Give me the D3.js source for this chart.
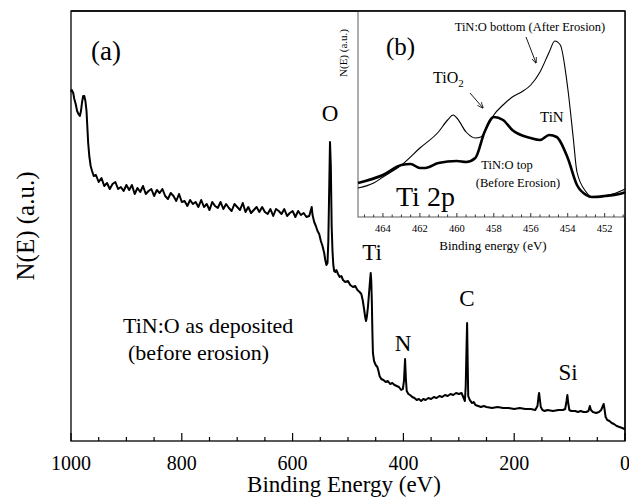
<!DOCTYPE html>
<html><head><meta charset="utf-8">
<script src="https://cdn.jsdelivr.net/npm/d3@7"></script>
</head><body style="margin:0;background:#fff"><svg id="c" width="629" height="497" style="display:block;font-family:'Liberation Serif',Tinos,'Times New Roman',serif !important"></svg>
<script>
// ---- main survey spectrum (binding energy eV, intensity a.u.) ----
const surveyE = [1000,998.7,996,994,991.5,989,986.5,984,982,980,978,976,974,972,970.5,969,967,964.5,962,959,
955,950,945,940,935,930,925,920,915,910,905,900,895,890,885,880,875,870,865,860,855,850,845,840,835,830,825,820,815,810,805,800,795,790,785,780,775,770,765,760,755,750,745,740,735,730,725,720,715,710,705,700,695,690,685,680,675,670,665,660,655,650,645,640,635,630,625,620,615,610,605,600,595,590,585,580,575,
570,567,565.5,564,561,558,555,552,549,546,543,541,539,537,535.5,534,532.5,531,529.5,528,526.5,525,523,521,518,515,512,509,505,500,496,491,487,483,479,476,473.5,471,469,467.5,466,464,462,460,459,458,457,456,455,453,450,447,445,443,440,436,432,428,424,420,416,412,408,404,401,399,397,395.5,394,391,388,384,380,376,372,368,364,360,355,350,345,340,335,330,325,320,315,310,305,300,295,292,289,287.5,286,285,284,283,281,279,276,273,270,265,260,255,250,240,230,220,210,200,190,180,170,162,158,156,155,154,152,149,145,140,130,120,112,108,105.5,104,102.5,100.5,97,90,85,80,75,70,66,63.5,61.5,58,52,47,43,40,38.5,37,35,32,28,24,20,15,10,5,1,0];
const surveyI = [349,351,348,342,337,330,327,325,330,339,345,345,340,330,314,298,285,275,270,265,
266,259,263,255,258,252,257,259,252,254,250,256,251,256,247,253,249,255,247,250,252,245,251,248,252,245,242,248,245,240,247,239,240,235,241,237,239,234,241,234,237,231,239,235,233,239,232,237,233,230,237,234,231,238,229,234,228,231,234,229,234,229,227,232,225,232,230,227,232,225,228,230,224,230,226,228,224,
225,231,234,226,219,215,210,207,200,195,188,181,176,178,200,250,299,275,215,190,176,170,169,171,167,164,165,161,159,160,156,154,155,151,149,147,141,132,124,120,124,134,148,162,168,160,140,110,88,80,76,74,70,65,62,61,59,60,57,58,56,55,54,51,52,60,82,62,50,47,46,44,43,41,42,40,42,41,43,42,44,43,45,44,46,45,47,46,48,47,48,44,40,55,95,118,80,45,42,40,38,39,36,35,34,35,34,33,34,33,33,32,33,32,32,31,35,45,48,43,34,31,30,31,30,31,31,32,40,46,38,31,30,30,29,30,29,29,30,35,31,29,28,29,31,35,37,32,24,21,20,18,17,15,14,13,12,12];
const mainTicks = [1000,800,600,400,200,0];
const elementLabels = ["O","Ti","N","C","Si"];
const elementE = [532.5,456.7,400.7,285.2,102.9];
const elementI = [320,181,90,135,61];

// ---- inset Ti 2p (binding energy eV, intensity a.u.) ----
const topE = [465.35,464,463,462.5,462,461.7,461,460,459.5,459,458.5,458,457.5,457,456,455.5,455,454.6,454,453.5,453,452.7,452,451,450.9];
const topI = [34,42,52,53,49,49,54,56,55,59,85,100,97,87,79,77,82,80,59,32,22,20,21,24,25];
const bottomE = [465.35,464.5,464,463,462,461,460.5,460.2,460,459.5,459,458.7,458.3,458,457.5,457,456.5,456,455.5,455,454.7,454.4,454,453.7,453.5,453,452.7,452,451,450.9];
const bottomI = [29,34,40,52,69,85,97,102,99,85,79,80,92,102,112,120,125,132,145,165,176,172,129,79,45,25,20,21,27,28];
const insetTicks = [464,462,460,458,456,454,452];

const FONT = "'Liberation Serif', Tinos, 'Times New Roman', serif";
const svg = d3.select("#c");
function styleText(sel,size){
  return sel.attr("font-family","Liberation Serif").style("font-family",FONT,"important")
    .attr("font-size",size).attr("fill","#000");
}
function txt(x0,y0,s,size,anchor){
  return styleText(svg.append("text").attr("x",x0).attr("y",y0).attr("text-anchor",anchor||"start"),size).text(s);
}
// main frame
const L=71,R=625,T=11,B=441;
const x = d3.scaleLinear().domain([1000,0]).range([L,R]);
const y = d3.scaleLinear().domain([0,430]).range([B,T]);

svg.append("rect").attr("x",L).attr("y",T).attr("width",R-L).attr("height",B-T)
  .attr("fill","none").attr("stroke","#000").attr("stroke-width",1.3);

// bottom axis with inward ticks
const minor = d3.range(0,1001,50);
svg.append("g").selectAll("line").data(minor).join("line")
  .attr("x1",d=>x(d)).attr("x2",d=>x(d)).attr("y1",B)
  .attr("y2",d=>B-(d%200===0?8:4)).attr("stroke","#000").attr("stroke-width",1.2);
mainTicks.forEach(t=>txt(x(t),470,String(t),20,"middle"));
txt(344,492,"Binding Energy (eV)",23,"middle");
styleText(svg.append("text").attr("transform","translate(34,226) rotate(-90)").attr("text-anchor","middle"),25).text("N(E) (a.u.)");

const survey = surveyE.map((e,i)=>[e,surveyI[i]]);
svg.append("path").datum(survey).attr("fill","none").attr("stroke","#000").attr("stroke-width",2)
  .attr("stroke-linejoin","round")
  .attr("d",d3.line().x(d=>x(d[0])).y(d=>y(d[1])));

txt(91,60,"(a)",27);
elementLabels.forEach((s,i)=>txt(x(elementE[i]),y(elementI[i]),s,23,"middle"));
txt(123,333,"TiN:O as deposited",22);
txt(128,360,"(before erosion)",22);

// ---- inset ----
const iL=358,iR=625,iT=11,iB=217;
const xi = d3.scaleLinear().domain([465.35,450.9]).range([iL,iR]);
const yi = d3.scaleLinear().domain([0,206]).range([iB,iT]);
svg.append("rect").attr("x",iL).attr("y",iT).attr("width",iR-iL).attr("height",iB-iT)
  .attr("fill","#fff").attr("stroke","#777").attr("stroke-width",1.2);
svg.append("line").attr("x1",L).attr("x2",R).attr("y1",T).attr("y2",T).attr("stroke","#000").attr("stroke-width",1.3);
svg.append("line").attr("x1",R).attr("x2",R).attr("y1",T).attr("y2",B).attr("stroke","#000").attr("stroke-width",1.3);
const iMinor = d3.range(451,465.01,0.5);
svg.append("g").selectAll("line").data(iMinor).join("line")
  .attr("x1",d=>xi(d)).attr("x2",d=>xi(d)).attr("y1",iB)
  .attr("y2",d=>iB-(d%2===0?4:2.5)).attr("stroke","#333").attr("stroke-width",1);
insetTicks.forEach(t=>txt(xi(t),232,String(t),10.5,"middle"));
txt(493,250,"Binding energy (eV)",13,"middle");
styleText(svg.append("text").attr("transform","translate(347,53) rotate(-90)").attr("text-anchor","middle"),11).text("N(E) (a.u.)");

const lineI = d3.line().x(d=>xi(d[0])).y(d=>yi(d[1])).curve(d3.curveMonotoneX);
svg.append("path").datum(bottomE.map((e,i)=>[e,bottomI[i]])).attr("fill","none")
  .attr("stroke","#000").attr("stroke-width",1.1).attr("d",lineI);
svg.append("path").datum(topE.map((e,i)=>[e,topI[i]])).attr("fill","none")
  .attr("stroke","#000").attr("stroke-width",2.6).attr("d",lineI);

// arrows
svg.append("defs").append("marker").attr("id","ah").attr("viewBox","0 0 10 10")
  .attr("refX",9).attr("refY",5).attr("markerWidth",7).attr("markerHeight",7).attr("orient","auto")
  .append("path").attr("d","M0,1 L10,5 L0,9").attr("fill","none").attr("stroke","#000").attr("stroke-width",1.2);
svg.append("line").attr("x1",526).attr("y1",37).attr("x2",536).attr("y2",63)
  .attr("stroke","#000").attr("stroke-width",0.9).attr("marker-end","url(#ah)");
svg.append("line").attr("x1",470).attr("y1",93).attr("x2",483).attr("y2",108)
  .attr("stroke","#000").attr("stroke-width",0.9).attr("marker-end","url(#ah)");

txt(386,55,"(b)",25);
txt(530,31,"TiN:O bottom (After Erosion)",12.5,"middle");
const tio = txt(433,83,"",16);
tio.append("tspan").text("TiO");
tio.append("tspan").attr("dy",4).attr("font-size",11).text("2");
txt(540,122,"TiN",15);
txt(507,169,"TiN:O top",12.5,"middle");
txt(518,187,"(Before Erosion)",12.5,"middle");
txt(396,206,"Ti 2p",28);
</script></body></html>
